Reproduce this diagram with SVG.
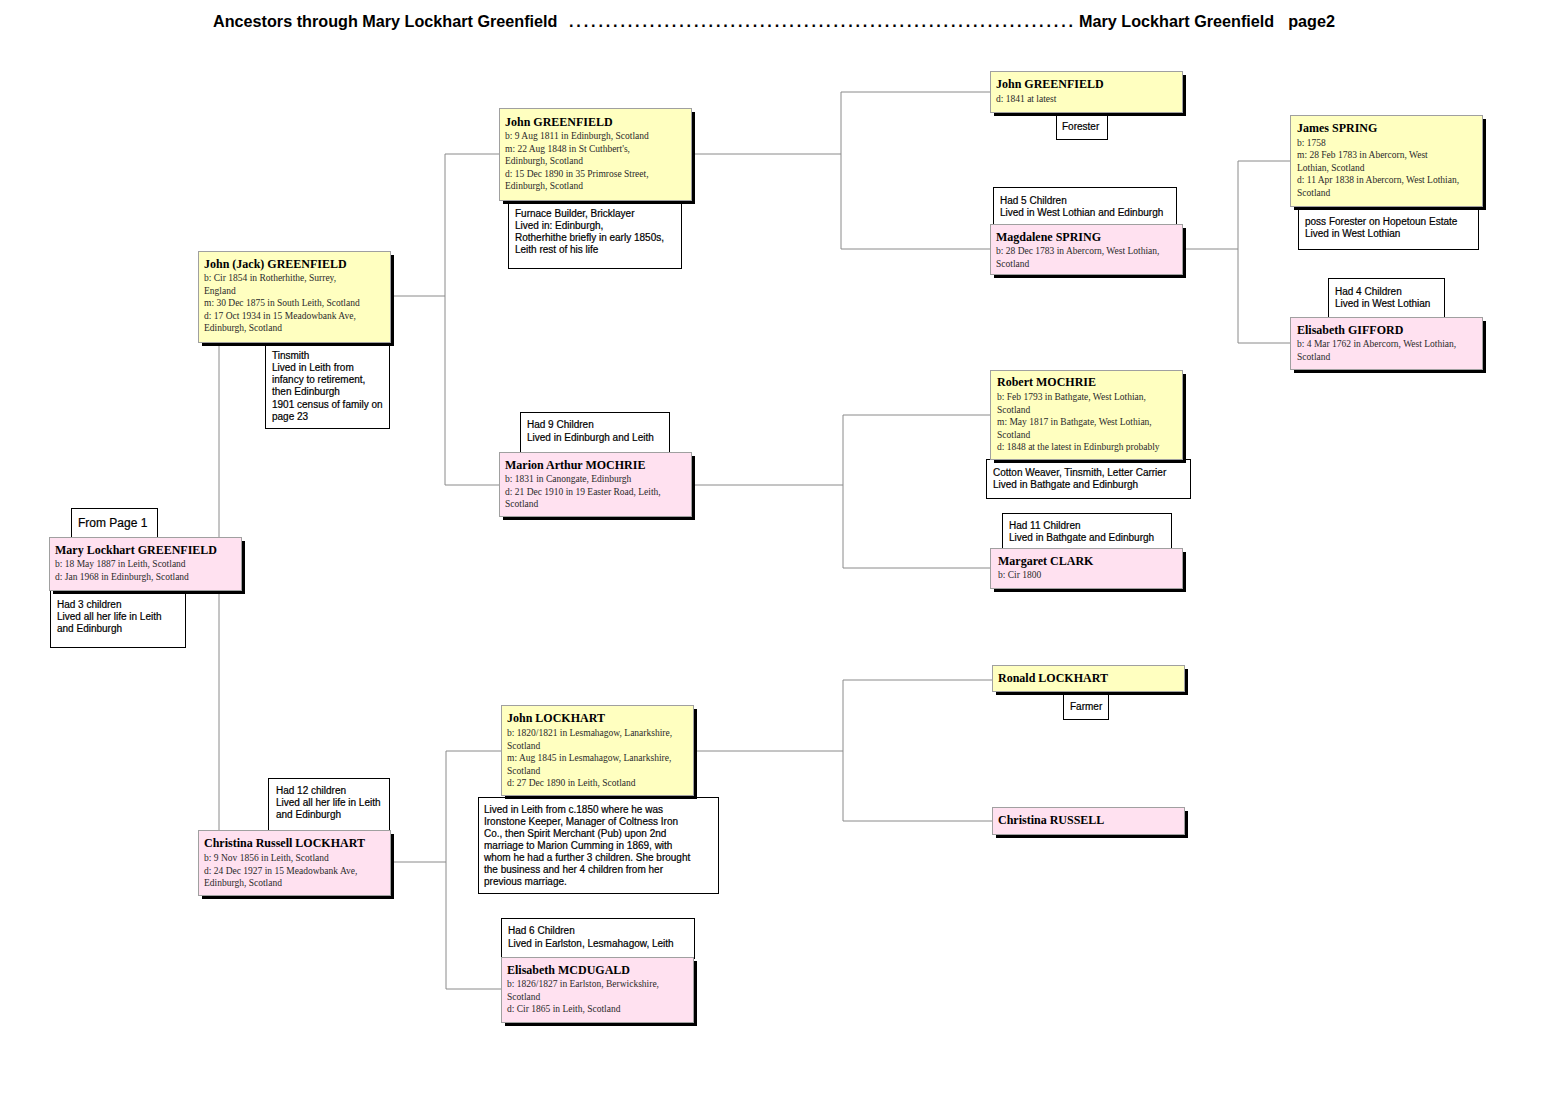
<svg xmlns="http://www.w3.org/2000/svg" width="1548" height="1100" viewBox="0 0 1548 1100">
<style>
.bg{fill:#fff}
.sh{fill:#000}
.py{fill:#FFFFC0;stroke:#A0A0A0;stroke-width:1}
.pp{fill:#FFE1F0;stroke:#A0A0A0;stroke-width:1}
.nm{font-family:"Liberation Serif",serif;font-weight:bold;font-size:12px;fill:#000}
.dt{font-family:"Liberation Serif",serif;font-size:9.5px;fill:#2a2a2a}
.nb{fill:#fff;stroke:#000;stroke-width:1}
.nt{font-family:"Liberation Sans",Arial,sans-serif;font-size:10px;fill:#000;stroke:#000;stroke-width:0.2}
.ln{fill:none;stroke:#8a8a8a;stroke-width:1}
.tt{font-family:"Liberation Sans",Arial,sans-serif;font-weight:bold;font-size:16.2px;fill:#000}
</style>
<rect class="bg" x="0" y="0" width="1548" height="1100"/>
<g id="title">
<text class="tt" x="213" y="27">Ancestors through Mary Lockhart Greenfield</text>
<text class="tt" x="569" y="27" textLength="504" lengthAdjust="spacing">. . . . . . . . . . . . . . . . . . . . . . . . . . . . . . . . . . . . . . . . . . . . . . . . . . . . . . . . . . . . . . . . . . . . .</text>
<text class="tt" x="1079" y="27">Mary Lockhart Greenfield</text>
<text class="tt" x="1335" y="27" text-anchor="end">page2</text>
</g>
<g id="connectors">
<path class="ln" d="M219 342 V830"/>
<path class="ln" d="M390 296 H445 M445 154 V485 M445 154 H499 M445 485 H499"/>
<path class="ln" d="M691 154 H841 M841 92 V249 M841 92 H990 M841 249 H990"/>
<path class="ln" d="M1182 249 H1238 M1238 161 V343 M1238 161 H1290 M1238 343 H1290"/>
<path class="ln" d="M691 485 H843 M843 415 V568 M843 415 H990 M843 568 H990"/>
<path class="ln" d="M390 862 H446 M446 751 V989 M446 751 H501 M446 989 H501"/>
<path class="ln" d="M693 751 H843 M843 680 V821 M843 680 H992 M843 821 H992"/>
</g>
<g id="mary">
<rect class="nb" x="71.5" y="508.5" width="86" height="29"/>
<text class="nt" x="78" y="527" style="font-size:12px">From Page 1</text>
<rect class="nb" x="50.5" y="590.5" width="135" height="57"/>
<text class="nt" x="57" y="608">Had 3 children</text>
<text class="nt" x="57" y="620">Lived all her life in Leith</text>
<text class="nt" x="57" y="632">and Edinburgh</text>
<rect class="sh" x="53" y="541" width="192" height="53"/>
<rect class="pp" x="49.5" y="537.5" width="192" height="53"/>
<text class="nm" x="55" y="554">Mary Lockhart GREENFIELD</text>
<text class="dt" x="55" y="567">b: 18 May 1887 in Leith, Scotland</text>
<text class="dt" x="55" y="580">d: Jan 1968 in Edinburgh, Scotland</text>
</g>
<g id="jack">
<rect class="nb" x="265.5" y="340.5" width="124" height="88"/>
<text class="nt" x="272" y="359">Tinsmith</text>
<text class="nt" x="272" y="371">Lived in Leith from</text>
<text class="nt" x="272" y="383">infancy to retirement,</text>
<text class="nt" x="272" y="395">then Edinburgh</text>
<text class="nt" x="272" y="407.5">1901 census of family on</text>
<text class="nt" x="272" y="419.5">page 23</text>
<rect class="sh" x="202" y="255" width="192" height="91"/>
<rect class="py" x="198.5" y="251.5" width="192" height="91"/>
<text class="nm" x="204" y="267.5">John (Jack) GREENFIELD</text>
<text class="dt" x="204" y="281">b: Cir 1854 in Rotherhithe, Surrey,</text>
<text class="dt" x="204" y="293.5">England</text>
<text class="dt" x="204" y="306">m: 30 Dec 1875 in South Leith, Scotland</text>
<text class="dt" x="204" y="318.5">d: 17 Oct 1934 in 15 Meadowbank Ave,</text>
<text class="dt" x="204" y="331">Edinburgh, Scotland</text>
</g>
<g id="john-greenfield-1811">
<rect class="nb" x="508.5" y="198.5" width="173" height="70"/>
<text class="nt" x="515" y="217">Furnace Builder, Bricklayer</text>
<text class="nt" x="515" y="229">Lived in: Edinburgh,</text>
<text class="nt" x="515" y="241">Rotherhithe briefly in early 1850s,</text>
<text class="nt" x="515" y="253">Leith rest of his life</text>
<rect class="sh" x="503" y="112" width="192" height="92"/>
<rect class="py" x="499.5" y="108.5" width="192" height="92"/>
<text class="nm" x="505" y="125.5">John GREENFIELD</text>
<text class="dt" x="505" y="139">b: 9 Aug 1811 in Edinburgh, Scotland</text>
<text class="dt" x="505" y="151.5">m: 22 Aug 1848 in St Cuthbert's,</text>
<text class="dt" x="505" y="164">Edinburgh, Scotland</text>
<text class="dt" x="505" y="176.5">d: 15 Dec 1890 in 35 Primrose Street,</text>
<text class="dt" x="505" y="189">Edinburgh, Scotland</text>
</g>
<g id="marion">
<rect class="nb" x="520.5" y="412.5" width="149" height="42"/>
<text class="nt" x="527" y="428">Had 9 Children</text>
<text class="nt" x="527" y="440.5">Lived in Edinburgh and Leith</text>
<rect class="sh" x="503" y="456" width="192" height="64"/>
<rect class="pp" x="499.5" y="452.5" width="192" height="64"/>
<text class="nm" x="505" y="468.5">Marion Arthur MOCHRIE</text>
<text class="dt" x="505" y="482">b: 1831 in Canongate, Edinburgh</text>
<text class="dt" x="505" y="494.5">d: 21 Dec 1910 in 19 Easter Road, Leith,</text>
<text class="dt" x="505" y="507">Scotland</text>
</g>
<g id="john-greenfield-1841">
<rect class="nb" x="1056.5" y="113.5" width="51" height="26"/>
<text class="nt" x="1062" y="130">Forester</text>
<rect class="sh" x="994" y="75" width="192" height="41"/>
<rect class="py" x="990.5" y="71.5" width="192" height="41"/>
<text class="nm" x="996" y="88">John GREENFIELD</text>
<text class="dt" x="996" y="101.5">d: 1841 at latest</text>
</g>
<g id="magdalene">
<rect class="nb" x="993.5" y="187.5" width="183" height="38"/>
<text class="nt" x="1000" y="204">Had 5 Children</text>
<text class="nt" x="1000" y="216">Lived in West Lothian and Edinburgh</text>
<rect class="sh" x="994" y="228" width="192" height="50"/>
<rect class="pp" x="990.5" y="224.5" width="192" height="50"/>
<text class="nm" x="996" y="240.5">Magdalene SPRING</text>
<text class="dt" x="996" y="254">b: 28 Dec 1783 in Abercorn, West Lothian,</text>
<text class="dt" x="996" y="266.5">Scotland</text>
</g>
<g id="james">
<rect class="nb" x="1298.5" y="205.5" width="180" height="44"/>
<text class="nt" x="1305" y="224.5">poss Forester on Hopetoun Estate</text>
<text class="nt" x="1305" y="236.5">Lived in West Lothian</text>
<rect class="sh" x="1294" y="119" width="192" height="91"/>
<rect class="py" x="1290.5" y="115.5" width="192" height="91"/>
<text class="nm" x="1297" y="132">James SPRING</text>
<text class="dt" x="1297" y="145.5">b: 1758</text>
<text class="dt" x="1297" y="158">m: 28 Feb 1783 in Abercorn, West</text>
<text class="dt" x="1297" y="170.5">Lothian, Scotland</text>
<text class="dt" x="1297" y="183">d: 11 Apr 1838 in Abercorn, West Lothian,</text>
<text class="dt" x="1297" y="195.5">Scotland</text>
</g>
<g id="gifford">
<rect class="nb" x="1328.5" y="278.5" width="116" height="40"/>
<text class="nt" x="1335" y="295">Had 4 Children</text>
<text class="nt" x="1335" y="307">Lived in West Lothian</text>
<rect class="sh" x="1294" y="321" width="192" height="52"/>
<rect class="pp" x="1290.5" y="317.5" width="192" height="52"/>
<text class="nm" x="1297" y="333.5">Elisabeth GIFFORD</text>
<text class="dt" x="1297" y="347">b: 4 Mar 1762 in Abercorn, West Lothian,</text>
<text class="dt" x="1297" y="359.5">Scotland</text>
</g>
<g id="robert">
<rect class="nb" x="986.5" y="459.5" width="204" height="39"/>
<text class="nt" x="993" y="476">Cotton Weaver, Tinsmith, Letter Carrier</text>
<text class="nt" x="993" y="488">Lived in Bathgate and Edinburgh</text>
<rect class="sh" x="994" y="374" width="192" height="89"/>
<rect class="py" x="990.5" y="370.5" width="192" height="89"/>
<text class="nm" x="997" y="386">Robert MOCHRIE</text>
<text class="dt" x="997" y="400">b: Feb 1793 in Bathgate, West Lothian,</text>
<text class="dt" x="997" y="412.5">Scotland</text>
<text class="dt" x="997" y="425">m: May 1817 in Bathgate, West Lothian,</text>
<text class="dt" x="997" y="437.5">Scotland</text>
<text class="dt" x="997" y="450">d: 1848 at the latest in Edinburgh probably</text>
</g>
<g id="clark">
<rect class="nb" x="1002.5" y="513.5" width="169" height="36"/>
<text class="nt" x="1009" y="529">Had 11 Children</text>
<text class="nt" x="1009" y="541">Lived in Bathgate and Edinburgh</text>
<rect class="sh" x="994" y="552" width="192" height="40"/>
<rect class="pp" x="990.5" y="548.5" width="192" height="40"/>
<text class="nm" x="998" y="564.5">Margaret CLARK</text>
<text class="dt" x="998" y="578">b: Cir 1800</text>
</g>
<g id="christina-lockhart">
<rect class="nb" x="268.5" y="778.5" width="121" height="53"/>
<text class="nt" x="276" y="794">Had 12 children</text>
<text class="nt" x="276" y="806">Lived all her life in Leith</text>
<text class="nt" x="276" y="818">and Edinburgh</text>
<rect class="sh" x="202" y="834" width="192" height="65"/>
<rect class="pp" x="198.5" y="830.5" width="192" height="65"/>
<text class="nm" x="204" y="847">Christina Russell LOCKHART</text>
<text class="dt" x="204" y="861">b: 9 Nov 1856 in Leith, Scotland</text>
<text class="dt" x="204" y="873.5">d: 24 Dec 1927 in 15 Meadowbank Ave,</text>
<text class="dt" x="204" y="886">Edinburgh, Scotland</text>
</g>
<g id="john-lockhart">
<rect class="nb" x="478.5" y="797.5" width="240" height="96"/>
<text class="nt" x="484" y="812.5">Lived in Leith from c.1850 where he was</text>
<text class="nt" x="484" y="824.5">Ironstone Keeper, Manager of Coltness Iron</text>
<text class="nt" x="484" y="836.5">Co., then Spirit Merchant (Pub) upon 2nd</text>
<text class="nt" x="484" y="848.5">marriage to Marion Cumming in 1869, with</text>
<text class="nt" x="484" y="861">whom he had a further 3 children. She brought</text>
<text class="nt" x="484" y="873">the business and her 4 children from her</text>
<text class="nt" x="484" y="885">previous marriage.</text>
<rect class="sh" x="505" y="709" width="192" height="90"/>
<rect class="py" x="501.5" y="705.5" width="192" height="90"/>
<text class="nm" x="507" y="722">John LOCKHART</text>
<text class="dt" x="507" y="736">b: 1820/1821 in Lesmahagow, Lanarkshire,</text>
<text class="dt" x="507" y="748.5">Scotland</text>
<text class="dt" x="507" y="761">m: Aug 1845 in Lesmahagow, Lanarkshire,</text>
<text class="dt" x="507" y="773.5">Scotland</text>
<text class="dt" x="507" y="786">d: 27 Dec 1890 in Leith, Scotland</text>
</g>
<g id="mcdugald">
<rect class="nb" x="501.5" y="918.5" width="193" height="40"/>
<text class="nt" x="508" y="934">Had 6 Children</text>
<text class="nt" x="508" y="946.5">Lived in Earlston, Lesmahagow, Leith</text>
<rect class="sh" x="505" y="961" width="192" height="65"/>
<rect class="pp" x="501.5" y="957.5" width="192" height="65"/>
<text class="nm" x="507" y="973.5">Elisabeth MCDUGALD</text>
<text class="dt" x="507" y="987">b: 1826/1827 in Earlston, Berwickshire,</text>
<text class="dt" x="507" y="999.5">Scotland</text>
<text class="dt" x="507" y="1012">d: Cir 1865 in Leith, Scotland</text>
</g>
<g id="ronald">
<rect class="nb" x="1063.5" y="693.5" width="45" height="26"/>
<text class="nt" x="1070" y="710">Farmer</text>
<rect class="sh" x="996" y="669" width="192" height="26"/>
<rect class="py" x="992.5" y="665.5" width="192" height="26"/>
<text class="nm" x="998" y="682">Ronald LOCKHART</text>
</g>
<g id="christina-russell">
<rect class="sh" x="996" y="811" width="192" height="27"/>
<rect class="pp" x="992.5" y="807.5" width="192" height="27"/>
<text class="nm" x="998" y="824">Christina RUSSELL</text>
</g>
</svg>
